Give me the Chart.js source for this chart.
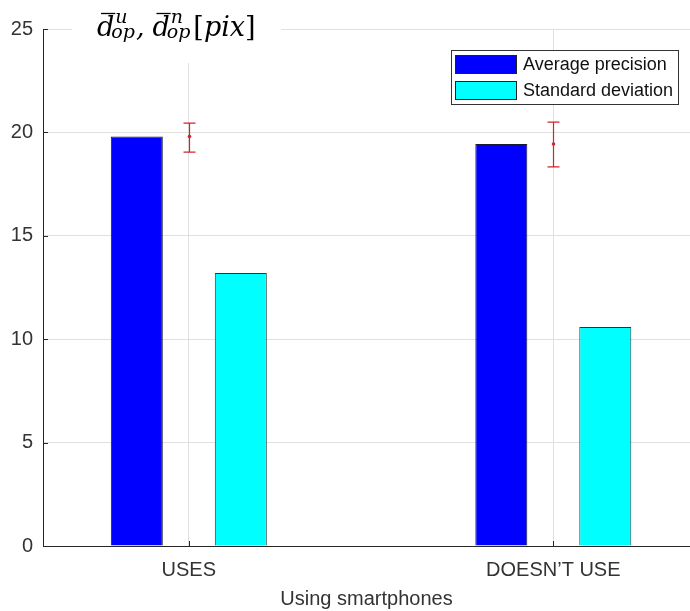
<!DOCTYPE html>
<html lang="en">
<head>
    <meta charset="UTF-8">
    <title>Using smartphones - precision</title>
    <script src="https://cdn.jsdelivr.net/npm/chart.js@4.4.1/dist/chart.umd.min.js"></script>
    <style>
        body {
            margin: 0;
            background: #fff;
            overflow: hidden;
        }
        #chart {
            display: block;
        }
    </style>
</head>
<body>
    <canvas id="chart" width="690" height="611"></canvas>

    <script>
        // Data
        const categories = ['USES', 'DOESN\u2019T USE'];
        const avgPrecision = [19.8, 19.44];
        const stdDeviation = [13.2, 10.59];
        // error bars drawn around the average precision
        const errorMinus = [0.75, 1.11];
        const errorPlus = [0.65, 1.06];
        const yTicks = [0, 5, 10, 15, 20, 25];

        const AXIS_FONT = '"Liberation Sans", Arial, sans-serif';
        const MATH_FONT = '"DejaVu Serif", serif';

        // Red error bars on the category lines
        const errorBarPlugin = {
            id: 'errorBars',
            afterDatasetsDraw(chart) {
                const ctx = chart.ctx;
                const xs = chart.scales.x, ys = chart.scales.y;
                ctx.save();
                ctx.strokeStyle = '#d2232a';
                ctx.fillStyle = '#d2232a';
                ctx.lineWidth = 1.2;
                categories.forEach((c, i) => {
                    const x = Math.round(xs.getPixelForValue(i + 1)) + 0.5;
                    const yc = ys.getPixelForValue(avgPrecision[i]);
                    const yl = ys.getPixelForValue(avgPrecision[i] - errorMinus[i]);
                    const yh = ys.getPixelForValue(avgPrecision[i] + errorPlus[i]);
                    ctx.beginPath();
                    ctx.moveTo(x, yl); ctx.lineTo(x, yh);
                    ctx.moveTo(x - 6, yl); ctx.lineTo(x + 6, yl);
                    ctx.moveTo(x - 6, yh); ctx.lineTo(x + 6, yh);
                    ctx.stroke();
                    ctx.beginPath();
                    ctx.arc(x, yc, 1.8, 0, Math.PI * 2);
                    ctx.fill();
                });
                ctx.restore();
            }
        };

        // Inward tick marks, y label block and legend box
        const decorPlugin = {
            id: 'decor',
            afterDraw(chart) {
                const ctx = chart.ctx;
                const area = chart.chartArea;
                const xs = chart.scales.x, ys = chart.scales.y;
                ctx.save();

                // tick marks pointing into the plot
                ctx.strokeStyle = '#262626';
                ctx.lineWidth = 1;
                ctx.beginPath();
                yTicks.forEach(v => {
                    const y = Math.round(ys.getPixelForValue(v)) + 0.5;
                    ctx.moveTo(area.left, y); ctx.lineTo(area.left + 5, y);
                });
                categories.forEach((c, i) => {
                    const x = Math.round(xs.getPixelForValue(i + 1)) + 0.5;
                    ctx.moveTo(x, area.bottom); ctx.lineTo(x, area.bottom - 5);
                });
                ctx.stroke();

                // y label in math style on a white patch
                ctx.fillStyle = '#fff';
                ctx.fillRect(72, 0, 209, 63);
                ctx.fillStyle = '#000';
                ctx.textBaseline = 'alphabetic';
                ctx.textAlign = 'left';
                const base = 36;
                let x = 97;
                const dop = (sup) => {
                    ctx.font = 'italic 27px ' + MATH_FONT;
                    ctx.fillText('d', x, base);
                    const w = ctx.measureText('d').width;
                    ctx.beginPath();
                    ctx.strokeStyle = '#000';
                    ctx.lineWidth = 1.3;
                    ctx.moveTo(x + 4, 13.5); ctx.lineTo(x + w + 1, 13.5);
                    ctx.stroke();
                    ctx.font = 'italic 19px ' + MATH_FONT;
                    ctx.fillText(sup, x + w + 1, base - 13);
                    ctx.fillText('op', x + w - 3, base + 2);
                    x += w - 3 + ctx.measureText('op').width;
                };
                dop('u');
                ctx.font = 'italic 27px ' + MATH_FONT;
                ctx.fillText(',', x + 1, base);
                x += ctx.measureText(',').width + 9;
                dop('n');
                x += 3;
                ctx.font = '27px ' + MATH_FONT;
                ctx.fillText('[', x, base);
                x += ctx.measureText('[').width;
                ctx.font = 'italic 27px ' + MATH_FONT;
                ctx.fillText('pix', x, base);
                x += ctx.measureText('pix').width;
                ctx.font = '27px ' + MATH_FONT;
                ctx.fillText(']', x, base);

                // legend
                const lx = 451, ly = 50, lw = 227, lh = 54;
                ctx.fillStyle = '#fff';
                ctx.fillRect(lx, ly, lw, lh);
                ctx.strokeStyle = '#333';
                ctx.lineWidth = 1;
                ctx.strokeRect(lx + 0.5, ly + 0.5, lw, lh);
                ctx.font = '18px ' + AXIS_FONT;
                ctx.textBaseline = 'middle';
                chart.data.datasets.forEach((ds, i) => {
                    const sy = ly + 5 + i * 26;
                    ctx.fillStyle = ds.backgroundColor;
                    ctx.fillRect(lx + 4, sy, 61, 18);
                    ctx.strokeStyle = '#222';
                    ctx.strokeRect(lx + 4.5, sy + 0.5, 61, 18);
                    ctx.fillStyle = '#111';
                    ctx.fillText(ds.label, lx + 72, sy + 10);
                });
                ctx.restore();
            }
        };

        const ctx = document.getElementById('chart').getContext('2d');
        new Chart(ctx, {
            type: 'bar',
            data: {
                datasets: [
                    {
                        label: 'Average precision',
                        data: categories.map((c, i) => ({ x: i + 1, y: avgPrecision[i] })),
                        backgroundColor: '#0000ff',
                        borderColor: '#1a1a2a',
                        borderWidth: 1
                    },
                    {
                        label: 'Standard deviation',
                        data: categories.map((c, i) => ({ x: i + 1, y: stdDeviation[i] })),
                        backgroundColor: '#00ffff',
                        borderColor: '#1f3a3a',
                        borderWidth: 1
                    }
                ]
            },
            options: {
                responsive: false,
                animation: false,
                categoryPercentage: 0.5706,
                barPercentage: 0.5,
                layout: { padding: { top: 29, left: 0, right: 0, bottom: 0 } },
                plugins: {
                    legend: { display: false },
                    tooltip: { enabled: false }
                },
                scales: {
                    x: {
                        type: 'linear',
                        min: 0.6,
                        max: 2.375,
                        offset: false,
                        afterBuildTicks: (s) => { s.ticks = categories.map((c, i) => ({ value: i + 1 })); },
                        afterFit: (s) => { s.height = 65; },
                        grid: { color: '#e0e0e0', drawTicks: false, offset: false },
                        border: { color: '#262626', width: 1 },
                        ticks: {
                            padding: 12,
                            color: '#333',
                            font: { family: AXIS_FONT, size: 20 },
                            callback: (v) => categories[v - 1] || ''
                        },
                        title: {
                            display: true,
                            text: 'Using smartphones',
                            color: '#333',
                            font: { family: AXIS_FONT, size: 20 },
                            padding: { top: 0, bottom: 0 }
                        }
                    },
                    y: {
                        min: 0,
                        max: 25,
                        afterBuildTicks: (s) => { s.ticks = yTicks.map(v => ({ value: v })); },
                        afterFit: (s) => { s.width = 43; },
                        grid: { color: '#e0e0e0', drawTicks: false },
                        border: { color: '#262626', width: 1 },
                        ticks: {
                            padding: 10,
                            color: '#333',
                            font: { family: AXIS_FONT, size: 20 }
                        }
                    }
                }
            },
            plugins: [errorBarPlugin, decorPlugin]
        });
    </script>
</body>
</html>
